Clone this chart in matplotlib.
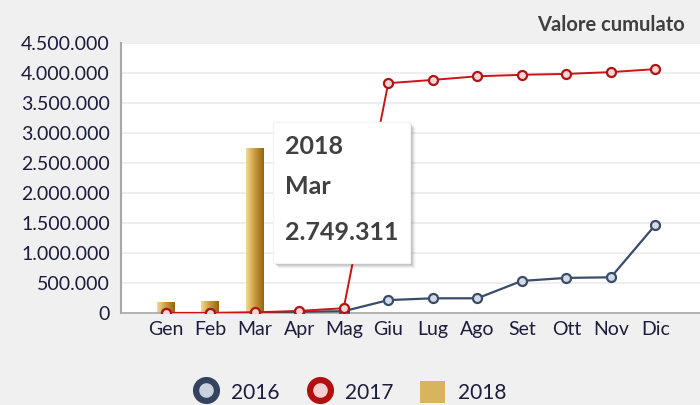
import matplotlib

matplotlib.use("Agg")
import matplotlib.pyplot as plt
import numpy as np
from matplotlib.colors import LinearSegmentedColormap
from matplotlib.lines import Line2D
from matplotlib.patches import Patch, Rectangle

months = ["Gen", "Feb", "Mar", "Apr", "Mag", "Giu",
          "Lug", "Ago", "Set", "Ott", "Nov", "Dic"]
cum_2016 = [0, 0, 5000, 20000, 30000, 215000,
            245000, 245000, 535000, 585000, 595000, 1470000]
cum_2017 = [0, 0, 10000, 35000, 80000, 3830000,
            3885000, 3945000, 3970000, 3985000, 4015000, 4065000]
months_2018 = ["Gen", "Feb", "Mar"]
cum_2018 = [187000, 203000, 2749311]

tip_year = "2018"
tip_month = "Mar"
tip_value = "2.749.311"

BG = "#f0f0f0"
TICK_COLOR = "#1c1c3c"
BLUE = "#3b4c6b"
RED = "#cc1414"

plt.rcParams["font.family"] = ["Lato", "DejaVu Sans"]


def it_fmt(v, _pos=None):
    return f"{int(v):,}".replace(",", ".")


fig = plt.figure(figsize=(7.0, 4.05), dpi=100, facecolor=BG)
ax = fig.add_axes([121 / 700, 1 - 313 / 405, 1 - 121 / 700, 270 / 405])
ax.set_facecolor("white")

x = np.arange(len(months))
x18 = [months.index(m) for m in months_2018]

bars = ax.bar(x18, cum_2018, width=0.4, color="#c99a3c", zorder=2, linewidth=0)
gold = LinearSegmentedColormap.from_list("gold", ["#f3d894", "#c99a3c", "#94650f"])
grad = np.linspace(0, 1, 64).reshape(1, -1)
for b in bars:
    im = ax.imshow(grad, cmap=gold, aspect="auto", zorder=2.1,
                   extent=[b.get_x(), b.get_x() + b.get_width(), 0, b.get_height()])
    im.set_clip_path(b)

ax.plot(x, cum_2016, color=BLUE, lw=1.6, marker="o", ms=6.5, mew=1.6,
        mfc="#d5dbe5", mec=BLUE, zorder=3)
ax.plot(x, cum_2017, color=RED, lw=1.4, marker="o", ms=6.5, mew=1.6,
        mfc="#f6d6d6", mec="#b01414", zorder=4)

ax.set_xlim(-1, 12)
ax.set_ylim(0, 4450000)
ax.set_yticks(np.arange(0, 4500001, 500000))
ax.yaxis.set_major_formatter(it_fmt)
ax.set_xticks(x)
ax.set_xticklabels(months)
ax.tick_params(axis="both", length=0, colors=TICK_COLOR, labelsize=14)
ax.tick_params(axis="y", pad=8)
ax.tick_params(axis="x", pad=6)
ax.grid(axis="y", color="#ebebeb", lw=1.2, zorder=0)
ax.set_axisbelow(True)
for side in ("top", "right"):
    ax.spines[side].set_visible(False)
ax.spines["left"].set_color("#a8a8a8")
ax.spines["bottom"].set_color("#a8a8a8")
ax.spines["left"].set_linewidth(1.5)
ax.spines["bottom"].set_linewidth(1.2)
for lbl in ax.get_yticklabels():
    lbl.set_clip_on(False)

fig.text(685 / 700, 1 - 25 / 405, "Valore cumulato", ha="right", va="center",
         fontsize=14.5, fontweight="bold", color="#3f3f3f")

# tooltip with soft shadow
W, H = 700, 405
x0, y0, x1, y1 = 273, 122, 410, 263
for k, a in enumerate([0.10, 0.08, 0.06, 0.04, 0.02]):
    off = k + 2
    fig.patches.append(Rectangle(((x0 + off) / W, 1 - (y1 + off) / H),
                                 (x1 - x0) / W, (y1 - y0) / H,
                                 transform=fig.transFigure, facecolor="black",
                                 alpha=a, edgecolor="none", zorder=5))
fig.patches.append(Rectangle((x0 / W, 1 - y1 / H), (x1 - x0) / W, (y1 - y0) / H,
                             transform=fig.transFigure, facecolor="white",
                             edgecolor="#f4f4f4", zorder=6))
for txt, yy in [(tip_year, 146), (tip_month, 187), (tip_value, 232)]:
    fig.text(285 / W, 1 - yy / H, txt, ha="left", va="center", fontsize=18,
             fontweight="bold", color="#404040", zorder=7)

handles = [
    Line2D([], [], ls="none", marker="o", ms=15, mew=4.5, mfc="#c9d1de", mec="#34435f"),
    Line2D([], [], ls="none", marker="o", ms=15, mew=4.5, mfc="#f4d0d0", mec="#b40f0f"),
    Patch(facecolor="#d9b45e", edgecolor="none"),
]
fig.legend(handles, ["2016", "2017", "2018"], loc="center",
           bbox_to_anchor=(0.5, 1 - 392 / 405), ncol=3, frameon=False,
           fontsize=15, handlelength=1.2, handleheight=1.3, columnspacing=1.3,
           handletextpad=0.6, labelcolor=TICK_COLOR)

fig.savefig("out.png", dpi=100, facecolor=BG)
